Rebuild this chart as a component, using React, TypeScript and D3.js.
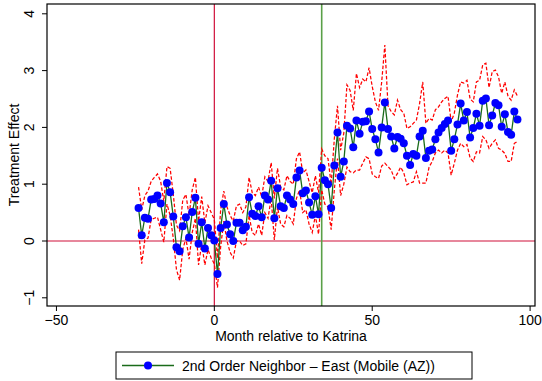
import React from "react";
import * as d3 from "d3";

const months: number[] = d3.range(-24, 97);

const effect: number[] = [
  0.58, 0.10, 0.41, 0.39, 0.73, 0.74, 0.80, 0.66, 0.33, 1.02,
  0.86, 0.43, -0.11, -0.18, 0.26, 0.42, 0.06, 0.51, 0.76, -0.05,
  0.33, -0.13, 0.23, 0.10, 0.01, -0.58, 0.23, 0.65, 0.29, 0.12,
  0.00, 0.32, 0.32, 0.19, 0.25, 0.77, 0.48, 0.44, 0.61, 0.42,
  0.80, 0.73, 1.06, 0.40, 0.93, 0.61, 0.58, 0.80, 0.73, 0.65,
  1.12, 1.24, 0.84, 0.89, 0.68, 0.46, 0.79, 0.47, 1.29, 1.07,
  1.00, 0.58, 1.33, 1.91, 1.13, 1.40, 2.03, 1.98, 1.65, 2.12,
  1.89, 2.10, 2.11, 2.28, 1.97, 1.79, 1.56, 2.00, 2.44, 1.97,
  1.84, 1.63, 1.83, 1.80, 1.72, 1.50, 1.34, 1.53, 1.50, 1.84,
  1.94, 1.46, 1.59, 1.61, 1.79, 1.91, 1.99, 2.06, 2.12, 1.59,
  1.79, 2.05, 2.42, 2.12, 2.27, 1.82, 1.99, 2.24, 2.03, 2.47,
  2.51, 2.04, 2.21, 2.43, 2.39, 2.01, 2.23, 1.92, 1.87, 2.28,
  2.14,
];

const lower: number[] = [
  0.20, -0.40, 0.02, 0.05, 0.38, 0.40, 0.42, 0.20, -0.02, 0.65,
  0.45, 0.05, -0.50, -0.69, -0.15, 0.05, -0.32, 0.15, 0.40, -0.42,
  -0.05, -0.42, -0.15, -0.30, -0.40, -0.82, -0.10, 0.35, 0.00, -0.20,
  -0.30, 0.00, 0.00, -0.08, -0.05, 0.45, 0.15, 0.10, 0.30, 0.10,
  0.50, 0.40, 0.75, 0.02, 0.60, 0.30, 0.25, 0.45, 0.40, 0.30,
  0.75, 0.90, 0.50, 0.55, 0.30, 0.15, 0.45, 0.12, 0.90, 0.65,
  0.60, 0.20, 0.90, 1.45, 0.80, 1.00, 1.30, 1.22, 1.20, 1.25,
  1.25, 1.37, 1.48, 1.45, 1.18, 1.13, 1.10, 1.32, 1.37, 1.31,
  1.25, 1.10, 1.19, 1.30, 1.20, 0.99, 1.02, 1.04, 1.22, 1.02,
  1.02, 1.02, 1.30, 1.40, 1.55, 1.60, 1.55, 1.60, 1.55, 1.16,
  1.37, 1.60, 1.72, 1.66, 1.70, 1.46, 1.40, 1.57, 1.55, 1.84,
  1.78, 1.63, 1.72, 1.78, 1.63, 1.60, 1.54, 1.40, 1.40, 1.72,
  1.75,
];

const upper: number[] = [
  0.95, 0.55, 0.80, 0.88, 1.05, 1.12, 1.18, 1.05, 0.70, 1.31,
  1.28, 0.82, 0.28, 0.18, 0.72, 0.82, 0.45, 0.90, 1.12, 0.35,
  0.78, 0.32, 0.62, 0.50, 0.38, -0.30, 0.55, 0.88, 0.60, 0.45,
  0.35, 0.62, 0.65, 0.50, 0.60, 1.12, 0.85, 0.80, 0.95, 0.78,
  1.13, 1.05, 1.38, 0.75, 1.28, 0.95, 0.90, 1.15, 1.05, 1.00,
  1.45, 1.57, 1.20, 1.25, 1.05, 0.85, 1.15, 0.85, 1.62, 1.50,
  1.45, 1.00, 1.80, 2.38, 1.60, 1.90, 2.75, 2.65, 2.30, 2.95,
  2.70, 2.85, 2.80, 3.05, 2.72, 2.45, 2.30, 2.80, 3.45, 2.38,
  2.28, 2.22, 2.48, 2.31, 2.25, 1.98, 2.01, 2.07, 2.13, 2.42,
  2.80, 2.07, 2.16, 2.13, 2.31, 2.36, 2.45, 2.51, 2.55, 2.10,
  2.25, 2.57, 2.80, 2.78, 2.83, 2.50, 2.45, 2.80, 2.83, 3.10,
  3.13, 2.70, 2.98, 3.01, 2.89, 2.60, 2.80, 2.55, 2.48, 2.66,
  2.55,
];

const xTicks: number[] = [-50, 0, 50, 100];
const yTicks: number[] = [-1, 0, 1, 2, 3, 4];
const eventMonth = 0;
const breakMonth = 34;
const xTitle = "Month relative to Katrina";
const yTitle = "Treatment Effect";
const legendLabel = "2nd Order Neighbor \u2013 East (Mobile (AZ))";

const W = 542;
const H = 381;
const frame = { left: 47, right: 535, top: 4, bottom: 306 };
const FONT = "'Liberation Sans', Arial, Helvetica, sans-serif";
const FS = 14;

const fmt = (v: number) => (v < 0 ? "\u2212" + Math.abs(v) : String(v));

export default function App() {
  const x = d3.scaleLinear().domain([-50, 100]).range([56.45, 530.1]);
  const y = d3.scaleLinear().domain([-1, 4]).range([297.8, 13.8]);

  const pts = months.map((m, i) => ({ m, v: effect[i], lo: lower[i], hi: upper[i] }));
  const line = d3.line<any>().x((d) => x(d.m)).y((d) => y(d.v));
  const loLine = d3.line<any>().x((d) => x(d.m)).y((d) => y(d.lo));
  const hiLine = d3.line<any>().x((d) => x(d.m)).y((d) => y(d.hi));

  const legend = { x0: 116, x1: 472, y0: 352, y1: 379 };
  const legY = (legend.y0 + legend.y1) / 2;

  return (
    <div style={{ position: "absolute", left: 0, top: 0, width: W, height: H, background: "#fff" }}>
      <svg width={W} height={H} style={{ display: "block", fontFamily: FONT }}>
        <rect x={0} y={0} width={W} height={H} fill="#fff" />
        {/* reference lines */}
        <line x1={frame.left} x2={frame.right} y1={y(0)} y2={y(0)} stroke="#d0103a" strokeWidth={1.2} />
        <line x1={x(eventMonth)} x2={x(eventMonth)} y1={frame.top} y2={frame.bottom} stroke="#d0103a" strokeWidth={1.2} />
        <line x1={x(breakMonth)} x2={x(breakMonth)} y1={frame.top} y2={frame.bottom} stroke="#5aa048" strokeWidth={1.6} />
        {/* CI bands */}
        <path d={loLine(pts) || ""} fill="none" stroke="#ff0000" strokeWidth={1.25} strokeDasharray="3.5,2" />
        <path d={hiLine(pts) || ""} fill="none" stroke="#ff0000" strokeWidth={1.25} strokeDasharray="3.5,2" />
        {/* series */}
        <path d={line(pts) || ""} fill="none" stroke="#1a6b1a" strokeWidth={1.3} />
        {pts.map((d) => (
          <circle key={d.m} cx={x(d.m)} cy={y(d.v)} r={4} fill="#0000ff" />
        ))}
        {/* frame */}
        <rect x={frame.left} y={frame.top} width={frame.right - frame.left} height={frame.bottom - frame.top} fill="none" stroke="#000" strokeWidth={1.2} />
        {/* y axis */}
        {yTicks.map((t) => (
          <g key={"y" + t}>
            <line x1={frame.left - 5} x2={frame.left} y1={y(t)} y2={y(t)} stroke="#000" strokeWidth={1} />
            <text x={0} y={0} transform={`translate(34,${y(t)}) rotate(-90)`} textAnchor="middle" fontSize={FS} fill="#000">
              {fmt(t)}
            </text>
          </g>
        ))}
        <text transform={`translate(19,${(frame.top + frame.bottom) / 2}) rotate(-90)`} textAnchor="middle" fontSize={FS} fill="#000">
          {yTitle}
        </text>
        {/* x axis */}
        {xTicks.map((t) => (
          <g key={"x" + t}>
            <line x1={x(t)} x2={x(t)} y1={frame.bottom} y2={frame.bottom + 5} stroke="#000" strokeWidth={1} />
            <text x={x(t)} y={325} textAnchor="middle" fontSize={FS} fill="#000">
              {fmt(t)}
            </text>
          </g>
        ))}
        <text x={(frame.left + frame.right) / 2} y={341} textAnchor="middle" fontSize={FS} fill="#000">
          {xTitle}
        </text>
        {/* legend */}
        <rect x={legend.x0} y={legend.y0} width={legend.x1 - legend.x0} height={legend.y1 - legend.y0} fill="#fff" stroke="#000" strokeWidth={1} />
        <line x1={122} x2={174} y1={legY} y2={legY} stroke="#1a6b1a" strokeWidth={1.3} />
        <circle cx={148} cy={legY} r={4} fill="#0000ff" />
        <text x={182} y={legY + 5} fontSize={FS} fill="#000">
          {legendLabel}
        </text>
      </svg>
    </div>
  );
}
